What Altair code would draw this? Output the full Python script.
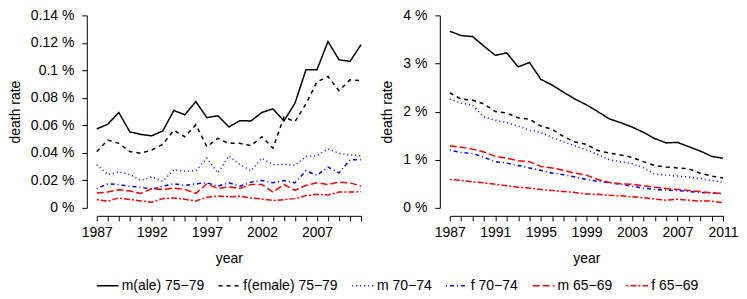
import altair as alt
import pandas as pd

years = list(range(1987, 2012))
series = ["m(ale) 75−79", "f(emale) 75−79", "m 70−74", "f 70−74", "m 65−69", "f 65−69"]
colors = ["#000000", "#000000", "#0000FF", "#0000FF", "#FF0000", "#FF0000"]
dashes = [[1, 0], [4, 4], [1, 3], [1, 3, 4, 3], [7, 3], [2, 2, 6, 2]]

# left panel (death rate, %)
left_m75 = [0.0574, 0.0608, 0.0694, 0.0553, 0.0534, 0.0524, 0.0560, 0.0708, 0.0677, 0.0773,
            0.0656, 0.0670, 0.0589, 0.0634, 0.0632, 0.0694, 0.0720, 0.0632, 0.0761, 0.1005,
            0.1005, 0.1210, 0.1077, 0.1065, 0.1187]
left_f75 = [0.0409, 0.0493, 0.0469, 0.0409, 0.0397, 0.0421, 0.0462, 0.0565, 0.0517, 0.0605,
            0.0445, 0.0505, 0.0469, 0.0469, 0.0452, 0.0517, 0.0435, 0.0660, 0.0627, 0.0756,
            0.0917, 0.0955, 0.0852, 0.0931, 0.0926]
left_m70 = [0.0314, 0.0242, 0.0261, 0.0242, 0.0199, 0.0225, 0.0194, 0.0278, 0.0266, 0.0270,
            0.0361, 0.0254, 0.0378, 0.0314, 0.0270, 0.0361, 0.0314, 0.0318, 0.0309, 0.0373,
            0.0380, 0.0428, 0.0397, 0.0385, 0.0378]
left_f70 = [0.0139, 0.0175, 0.0170, 0.0156, 0.0151, 0.0134, 0.0158, 0.0175, 0.0163, 0.0175,
            0.0182, 0.0158, 0.0182, 0.0158, 0.0187, 0.0199, 0.0182, 0.0199, 0.0182, 0.0270,
            0.0237, 0.0297, 0.0254, 0.0349, 0.0349]
left_m65 = [0.0108, 0.0115, 0.0132, 0.0122, 0.0105, 0.0139, 0.0134, 0.0144, 0.0134, 0.0105,
            0.0175, 0.0141, 0.0153, 0.0141, 0.0170, 0.0170, 0.0115, 0.0170, 0.0127, 0.0163,
            0.0182, 0.0170, 0.0187, 0.0182, 0.0158]
left_f65 = [0.0060, 0.0048, 0.0072, 0.0060, 0.0050, 0.0041, 0.0067, 0.0072, 0.0062, 0.0050,
            0.0077, 0.0086, 0.0081, 0.0084, 0.0072, 0.0065, 0.0053, 0.0060, 0.0067, 0.0089,
            0.0098, 0.0093, 0.0115, 0.0115, 0.0117]

# right panel (death rate, %)
right_m75 = [3.67, 3.58, 3.56, 3.36, 3.17, 3.22, 2.93, 3.02, 2.67, 2.55, 2.40, 2.26, 2.14,
             2.00, 1.85, 1.77, 1.68, 1.57, 1.44, 1.35, 1.36, 1.27, 1.18, 1.07, 1.03]
right_f75 = [2.39, 2.26, 2.24, 2.16, 2.00, 1.97, 1.87, 1.84, 1.70, 1.63, 1.48, 1.37, 1.32,
             1.19, 1.14, 1.10, 1.05, 0.96, 0.88, 0.85, 0.83, 0.81, 0.72, 0.66, 0.62]
right_m70 = [2.26, 2.18, 2.13, 1.89, 1.82, 1.77, 1.70, 1.61, 1.57, 1.46, 1.37, 1.29, 1.20,
             1.11, 1.00, 0.96, 0.92, 0.83, 0.70, 0.68, 0.66, 0.64, 0.61, 0.57, 0.53]
right_f70 = [1.20, 1.15, 1.13, 1.05, 0.96, 0.93, 0.88, 0.83, 0.78, 0.72, 0.69, 0.64, 0.59,
             0.55, 0.52, 0.49, 0.45, 0.41, 0.38, 0.37, 0.36, 0.34, 0.32, 0.31, 0.29]
right_m65 = [1.29, 1.26, 1.22, 1.16, 1.07, 1.03, 0.98, 0.96, 0.86, 0.83, 0.78, 0.72, 0.68,
             0.59, 0.53, 0.50, 0.49, 0.46, 0.43, 0.40, 0.38, 0.36, 0.34, 0.31, 0.30]
right_f65 = [0.59, 0.57, 0.54, 0.52, 0.49, 0.46, 0.43, 0.41, 0.38, 0.36, 0.34, 0.32, 0.29,
             0.28, 0.26, 0.25, 0.23, 0.21, 0.18, 0.16, 0.18, 0.16, 0.14, 0.14, 0.11]

left_ticks = [0, 0.02, 0.04, 0.06, 0.08, 0.1, 0.12, 0.14]
right_ticks = [0, 1, 2, 3, 4]


def frame(cols):
    rows = []
    for name, vals in zip(series, cols):
        for y, v in zip(years, vals):
            rows.append({"year": y, "series": name, "rate": v})
    return pd.DataFrame(rows)


left_df = frame([left_m75, left_f75, left_m70, left_f70, left_m65, left_f65])
right_df = frame([right_m75, right_f75, right_m70, right_f70, right_m65, right_f65])

FONT = "Liberation Sans"
FS = 14


def legend():
    return alt.Legend(title=None, orient="none", direction="horizontal",
                      legendX=-1, legendY=259, symbolType="stroke",
                      symbolSize=470, symbolStrokeWidth=1.5,
                      labelFontSize=FS, labelFont=FONT, labelColor="#000",
                      columnPadding=11, labelOffset=2, labelLimit=300,
                      gridAlign="none")


color_enc = alt.Color("series:N", scale=alt.Scale(domain=series, range=colors), legend=legend())
dash_enc = alt.StrokeDash("series:N", scale=alt.Scale(domain=series, range=dashes), legend=legend())


def panel(df, ticks, lab_every, w, ymax):
    x_axis = alt.Axis(values=years, title="year", offset=8, grid=False,
                      labelExpr=f"(datum.value - 1987) % {lab_every} == 0 ? toString(datum.value) : ''",
                      labelOverlap=False, tickSize=5, labelPadding=5, titlePadding=12,
                      labelFlush=False)
    y_axis = alt.Axis(values=ticks, title="death rate", offset=10, grid=False,
                      labelExpr="format(datum.value, '.2~f') + ' %'", tickSize=5,
                      labelPadding=8, titlePadding=8)
    return alt.Chart(df).mark_line(strokeWidth=1.5).encode(
        x=alt.X("year:Q", scale=alt.Scale(domain=[1987, 2011], nice=False, zero=False), axis=x_axis),
        y=alt.Y("rate:Q", scale=alt.Scale(domain=[0, ymax], nice=False), axis=y_axis),
        color=color_enc,
        strokeDash=dash_enc,
        detail="series:N",
    ).properties(width=w, height=193)


left = panel(left_df, left_ticks, 5, 265, 0.14)
right = panel(right_df, right_ticks, 4, 274, 4)

chart = alt.hconcat(left, right, spacing=16).properties(
    padding={"left": 0, "top": 0, "right": 0, "bottom": 0}
).configure_view(stroke=None).configure_axis(
    labelFont=FONT, titleFont=FONT, labelFontSize=FS, titleFontSize=FS,
    labelColor="#000", titleColor="#000", domainColor="#000", tickColor="#000",
    titleFontWeight="normal", domainWidth=1, tickWidth=1
)

chart.save("out.html", embed_options={"renderer": "svg", "actions": False})
